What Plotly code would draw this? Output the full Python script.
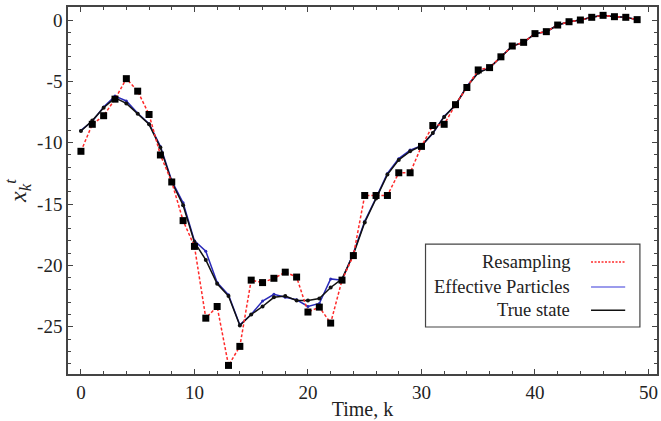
import plotly.graph_objects as go

time_k = list(range(50))

resampling = [-10.7, -8.5, -7.8, -6.45, -4.78, -5.8, -7.7, -11.0, -13.2, -16.35,
              -18.45, -24.3, -23.35, -28.15, -26.6, -21.2, -21.4, -21.05, -20.55, -20.95,
              -23.8, -23.4, -24.7, -21.2, -19.2, -14.3, -14.3, -14.3, -12.45, -12.45,
              -10.3, -8.6, -8.5, -6.9, -5.5, -4.07, -3.88, -3.0, -2.12, -1.82,
              -1.11, -0.95, -0.41, -0.14, 0.0, 0.22, 0.38, 0.27, 0.22, 0.03]

true_state = [-9.05, -8.2, -7.15, -6.35, -6.8, -7.65, -8.5, -10.4, -13.2, -15.1,
              -18.1, -19.55, -21.5, -22.5, -24.9, -24.0, -23.35, -22.6, -22.5, -22.85,
              -22.85, -22.7, -21.8, -21.1, -19.1, -16.5, -14.55, -12.6, -11.4, -10.7,
              -10.25, -9.2, -7.9, -6.9, -5.45, -4.3, -3.9, -3.0, -2.12, -1.82,
              -1.11, -0.95, -0.41, -0.14, 0.0, 0.22, 0.38, 0.27, 0.22, 0.03]

effective = [-9.0, -8.25, -7.1, -6.2, -6.6, -7.6, -8.45, -10.3, -13.1, -14.9,
             -18.0, -18.85, -21.4, -22.4, -24.85, -24.0, -22.9, -22.35, -22.6, -22.8,
             -23.35, -23.1, -21.1, -21.2, -19.0, -16.4, -14.5, -12.5, -11.3, -10.6,
             -10.25, -9.25, -7.85, -6.95, -5.4, -4.25, -3.9, -3.0, -2.12, -1.82,
             -1.11, -0.95, -0.41, -0.14, 0.0, 0.22, 0.38, 0.27, 0.22, 0.03]

x_ticks = [0, 10, 20, 30, 40, 50]
y_ticks = [0, -5, -10, -15, -20, -25]
legend_names = ["Resampling", "Effective Particles", "True state"]

RED = "#ff2a2a"
BLUE = "#2a2ab8"
BLACK = "#111111"
FONT = "Liberation Serif"

fig = go.Figure()
fig.add_trace(go.Scatter(x=time_k, y=effective, mode="lines+markers",
                         line=dict(color=BLUE, width=1.5),
                         marker=dict(size=3, color=BLUE), showlegend=False))
fig.add_trace(go.Scatter(x=time_k, y=true_state, mode="lines+markers",
                         line=dict(color=BLACK, width=1.5),
                         marker=dict(size=4, color=BLACK), showlegend=False))
fig.add_trace(go.Scatter(x=time_k, y=resampling, mode="lines",
                         line=dict(color=RED, width=1.5, dash="3px,2px"),
                         showlegend=False))
fig.add_trace(go.Scatter(x=time_k, y=resampling, mode="markers",
                         marker=dict(symbol="square", size=7, color="black"),
                         showlegend=False))

# custom legend (symbols on the right, as in the reference)
fig.add_shape(type="rect", xref="paper", yref="paper", x0=0.607, x1=0.971,
              y0=0.128, y1=0.354, line=dict(color="#444", width=1.2),
              fillcolor="white", layer="above")
leg_y = [0.305, 0.237, 0.174]
leg_style = [dict(color=RED, width=1.5, dash="2px,1.5px"),
             dict(color="#7a7ae6", width=1.5),
             dict(color=BLACK, width=1.5)]
for name, yy, st in zip(legend_names, leg_y, leg_style):
    fig.add_annotation(x=0.855, y=yy, xref="paper", yref="paper", text=name,
                       showarrow=False, xanchor="right", yanchor="middle",
                       font=dict(family=FONT, size=18.5, color="#222"))
    fig.add_shape(type="line", xref="paper", yref="paper", x0=0.888, x1=0.946,
                  y0=yy, y1=yy, line=st, layer="above")

axis_common = dict(showgrid=False, zeroline=False, showline=True, linecolor="#444",
                   linewidth=1.5, mirror="ticks", ticks="inside", tickcolor="#444",
                   ticklen=5, tickwidth=1, tickfont=dict(family=FONT, size=19, color="#222"))

fig.update_xaxes(range=[-1.14, 50.75], tickmode="array", tickvals=x_ticks,
                 ticktext=[str(v) for v in x_ticks],
                 minor=dict(dtick=2, ticks="inside", ticklen=3, tickcolor="#444"),
                 title=dict(text="Time, k", font=dict(family=FONT, size=20, color="#222"),
                            standoff=0),
                 **axis_common)
fig.update_yaxes(range=[-28.85, 1.06], tickmode="array", tickvals=y_ticks,
                 ticktext=[str(v) for v in y_ticks],
                 minor=dict(dtick=1, ticks="inside", ticklen=3, tickcolor="#444"),
                 title=dict(text="<i>x</i><sub><i>k</i></sub><sup><i>t</i></sup>",
                            font=dict(family=FONT, size=24, color="#222"), standoff=4),
                 **axis_common)

fig.update_layout(width=661, height=421, margin=dict(l=68, r=2, t=7, b=47),
                  plot_bgcolor="white", paper_bgcolor="white")

fig.write_html("out.html")
